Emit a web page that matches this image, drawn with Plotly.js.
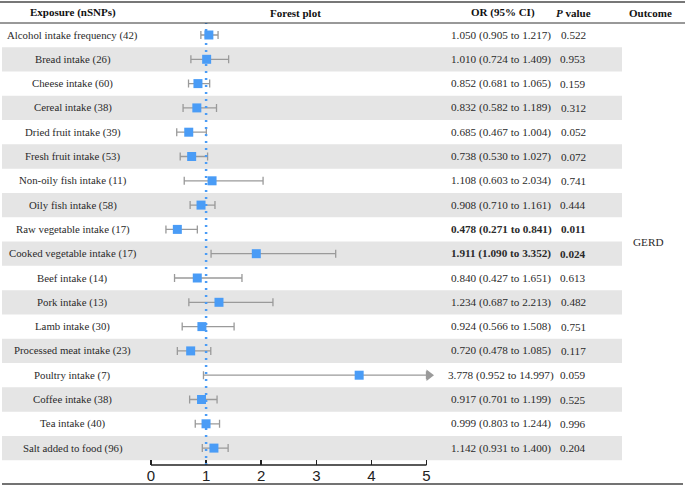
<!DOCTYPE html>
<html>
<head>
<meta charset="utf-8">
<script src="https://cdn.plot.ly/plotly-3.0.1.min.js"></script>
<style>html,body{margin:0;padding:0;background:#fff;}#chart{width:685px;height:487px;}</style>
</head>
<body>
<div id="chart"></div>
<script>
// ---- data ----
var exposures = ["Alcohol intake frequency","Bread intake","Cheese intake","Cereal intake","Dried fruit intake","Fresh fruit intake","Non-oily fish intake","Oily fish intake","Raw vegetable intake","Cooked vegetable intake","Beef intake","Pork intake","Lamb intake","Processed meat intake","Poultry intake","Coffee intake","Tea intake","Salt added to food"];
var nSNPs = [42,26,60,38,39,53,11,58,17,17,14,13,30,23,7,38,40,96];
var orVals = [1.050,1.010,0.852,0.832,0.685,0.738,1.108,0.908,0.478,1.911,0.840,1.234,0.924,0.720,3.778,0.917,0.999,1.142];
var ciLow = [0.905,0.724,0.681,0.582,0.467,0.530,0.603,0.710,0.271,1.090,0.427,0.687,0.566,0.478,0.952,0.701,0.803,0.931];
var ciHigh = [1.217,1.409,1.065,1.189,1.004,1.027,2.034,1.161,0.841,3.352,1.651,2.213,1.508,1.085,14.997,1.199,1.244,1.400];
var pValues = ["0.522","0.953","0.159","0.312","0.052","0.072","0.741","0.444","0.011","0.024","0.613","0.482","0.751","0.117","0.059","0.525","0.996","0.204"];
var outcome = "GERD";
var headers = ["Exposure (nSNPs)","Forest plot","OR (95% CI)","<i>P</i> value","Outcome"];
var xTicks = [0,1,2,3,4,5];

// ---- layout geometry (pixels) ----
var W = 685, H = 487, B = 22;
var plotH = H - B;
var row1Px = 35, rowStep = 24.3;
var x0Px = 151, unitPx = 55.1;
var axisMax = xTicks[xTicks.length-1];
function pxToY(p){ return 1 + (p - row1Px)/rowStep; }
function pxToPaperY(p){ return (plotH - p)/plotH; }
function pxToPaperX(p){ return p / W; }

var n = exposures.length;
var rows = exposures.map(function(_, i){ return i + 1; });
var plusErr = orVals.map(function(v, i){ return Math.min(ciHigh[i], axisMax) - v; });
var minusErr = orVals.map(function(v, i){ return v - ciLow[i]; });

var serif = "'Liberation Serif', 'Times New Roman', Times, serif";
var blue = "#4a9cf6";
var grayBar = "#9a9a9a";

var traces = [
  {
    x: orVals, y: rows, type: "scatter", mode: "markers",
    marker: {symbol: "square", size: 9, color: blue},
    error_x: {type: "data", symmetric: false, array: plusErr, arrayminus: minusErr,
              color: grayBar, thickness: 1.3, width: 4},
    hoverinfo: "skip", showlegend: false, cliponaxis: false
  }
];
// truncated CI arrows
var arrX = [], arrY = [];
ciHigh.forEach(function(h, i){ if (h > axisMax) { arrX.push(axisMax + 2.5/unitPx); arrY.push(i+1); } });
traces.push({
  x: arrX, y: arrY, type: "scatter", mode: "markers",
  marker: {symbol: "triangle-right", size: 10, color: grayBar},
  hoverinfo: "skip", showlegend: false, cliponaxis: false
});

var shapes = [];
// alternating grey bands
for (var i = 0; i < n; i++) {
  if (i % 2 === 1) {
    shapes.push({type: "rect", xref: "paper", yref: "y", x0: pxToPaperX(2), x1: pxToPaperX(622),
      y0: i + 0.5, y1: i + 1.5, fillcolor: "#e5e5e5", line: {width: 0}, layer: "below"});
  }
}
// reference dotted line at OR=1
shapes.push({type: "line", xref: "x", yref: "paper", x0: 1, x1: 1, y0: 0, y1: pxToPaperY(23),
  line: {color: blue, width: 2.5, dash: "2px,5px"}, layer: "above"});
// x axis line 0..5
shapes.push({type: "line", xref: "x", yref: "paper", x0: xTicks[0], x1: axisMax, y0: 0, y1: 0,
  line: {color: "#222", width: 1.5}});
// table rules
shapes.push({type: "line", xref: "paper", yref: "paper", x0: 0, x1: 1, y0: pxToPaperY(2), y1: pxToPaperY(2),
  line: {color: "#777", width: 2}});
shapes.push({type: "line", xref: "paper", yref: "paper", x0: 0, x1: 1, y0: pxToPaperY(23), y1: pxToPaperY(23),
  line: {color: "#333", width: 1}});
shapes.push({type: "line", xref: "paper", yref: "paper", x0: pxToPaperX(2), x1: pxToPaperX(683), y0: pxToPaperY(484), y1: pxToPaperY(484),
  line: {color: "#444", width: 1.5}});

var annotations = [];
var headerX = [72.5, 295, 503, 573, 650];
headers.forEach(function(h, k){
  annotations.push({text: "<b>" + h + "</b>", xref: "paper", yref: "paper", x: pxToPaperX(headerX[k]), y: pxToPaperY(13),
    xanchor: "center", yanchor: "middle", showarrow: false, font: {family: serif, size: 11, color: "#111"}});
});
var labelFont = {family: serif, size: 10.8, color: "#2a2a2a"};
var bodyFont = {family: serif, size: 11.2, color: "#2a2a2a"};
for (var i = 0; i < n; i++) {
  var sig = parseFloat(pValues[i]) < 0.05;
  var orTxt = orVals[i].toFixed(3) + " (" + ciLow[i].toFixed(3) + " to " + ciHigh[i].toFixed(3) + ")";
  var pTxt = pValues[i];
  if (sig) { orTxt = "<b>" + orTxt + "</b>"; pTxt = "<b>" + pTxt + "</b>"; }
  annotations.push({text: exposures[i] + " (" + nSNPs[i] + ")", xref: "paper", yref: "y", x: pxToPaperX(72.5), y: i + 1,
    xanchor: "center", yanchor: "middle", showarrow: false, font: labelFont});
  annotations.push({text: orTxt, xref: "paper", yref: "y", x: pxToPaperX(501), y: i + 1,
    xanchor: "center", yanchor: "middle", showarrow: false, font: bodyFont});
  annotations.push({text: pTxt, xref: "paper", yref: "y", x: pxToPaperX(573), y: i + 1,
    xanchor: "center", yanchor: "middle", showarrow: false, font: bodyFont});
}
annotations.push({text: outcome, xref: "paper", yref: "y", x: pxToPaperX(648), y: (n + 1) / 2,
  xanchor: "center", yanchor: "middle", showarrow: false, font: bodyFont});

var layout = {
  width: W, height: H,
  margin: {l: 0, r: 0, t: 0, b: B, pad: 0},
  paper_bgcolor: "#fff", plot_bgcolor: "#fff",
  showlegend: false,
  xaxis: {range: [-x0Px/unitPx, (W - x0Px)/unitPx], showgrid: false, zeroline: false, showline: false,
          tickmode: "array", tickvals: xTicks, ticktext: xTicks.map(String),
          ticks: "inside", ticklen: 5, tickwidth: 1.5, tickcolor: "#222",
          tickfont: {family: "'Liberation Sans', Arial, sans-serif", size: 15, color: "#222"},
          automargin: false, fixedrange: true},
  yaxis: {range: [pxToY(plotH), pxToY(0)], showgrid: false, zeroline: false, showline: false,
          showticklabels: false, ticks: "", automargin: false, fixedrange: true},
  shapes: shapes,
  annotations: annotations
};

Plotly.newPlot("chart", traces, layout, {staticPlot: true, displayModeBar: false});
</script>
</body>
</html>
